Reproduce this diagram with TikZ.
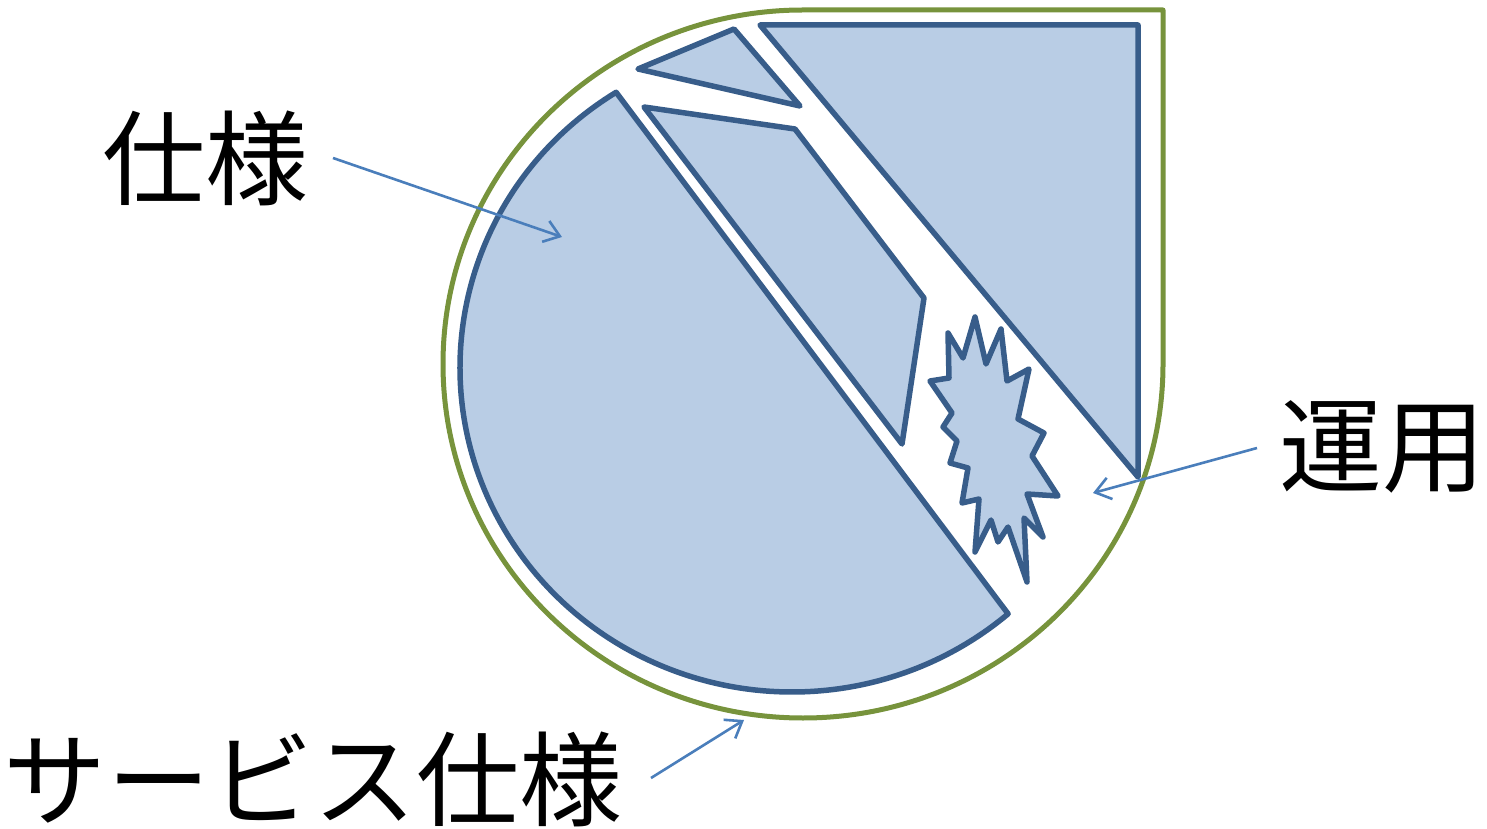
\documentclass[tikz,border=0pt]{standalone}
\usepackage{fontspec}
\newfontfamily\cjk{Noto Sans CJK JP}
\usetikzlibrary{arrows.meta}
\definecolor{olivegreen}{HTML}{77933C}
\definecolor{darkblue}{HTML}{385D8A}
\definecolor{lightblue}{HTML}{B9CDE5}
\definecolor{arrowblue}{HTML}{4A7EBB}
\tikzset{
  outer/.style={draw=olivegreen, line width=5pt, line join=round},
  piece/.style={draw=darkblue, fill=lightblue, line width=5.5pt, line join=round},
  callout/.style={draw=arrowblue, line width=2.6pt, -{Straight Barb[length=15pt,width=22pt,line width=2.6pt]}},
  label/.style={font=\cjk\fontsize{103}{120}\selectfont, inner sep=0pt, anchor=center}
}
\begin{document}
\begin{tikzpicture}[x=1pt,y=1pt]
\useasboundingbox (0,0) rectangle (1487,828);
% outer teardrop
\draw[outer] (803,818) -- (1163,818) -- (1163,464)
  arc[start angle=0, end angle=-270, x radius=360, y radius=354] -- cycle;
% big segment
\draw[piece] (616.1,735.7) arc[start angle=122, end angle=310.6, x radius=332, y radius=324.5] -- cycle;
% small triangle
\draw[piece] (638,759) -- (734,799) -- (800,722) -- cycle;
% quadrilateral
\draw[piece] (644,721) -- (795,699) -- (924,530) -- (902,384) -- cycle;
% right triangle
\draw[piece] (760,803) -- (1138,803) -- (1138,351) -- cycle;
% starburst
\draw[piece] (975,511) -- (986,464) -- (1001,499) -- (1007,447) -- (1029,459) -- (1018,409)
  -- (1044,395) -- (1032,372) -- (1058,332) -- (1027,334) -- (1043,291) -- (1024,310)
  -- (1027,246) -- (1008,301) -- (998,286) -- (991,308) -- (975,276) -- (979,329)
  -- (962,325) -- (968,360) -- (950,365) -- (957,387) -- (943,401) -- (952,415)
  -- (930,447) -- (949,450) -- (948,495) -- (963,470) -- cycle;
% labels
\node[label] (spec) at (205,670) {仕様};
\node[label] (ops) at (1382,381) {運用};
\node[label] (svc) at (313,49) {サービス仕様};
% callout arrows
\coordinate (a1s) at (333,670);
\coordinate (a1e) at (562,591);
\coordinate (a2s) at (1257,380);
\coordinate (a2e) at (1093,335);
\coordinate (a3s) at (651,50);
\coordinate (a3e) at (744,108);
\draw[callout] (a1s) -- (a1e);
\draw[callout] (a2s) -- (a2e);
\draw[callout] (a3s) -- (a3e);
\end{tikzpicture}
\end{document}
